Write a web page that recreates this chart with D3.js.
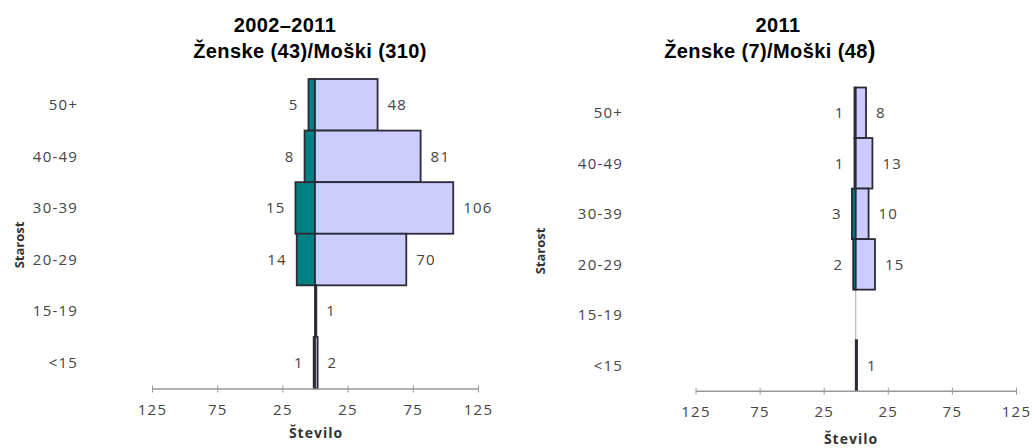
<!DOCTYPE html>
<html>
<head>
<meta charset="utf-8">
<script src="https://cdn.jsdelivr.net/npm/d3@7"></script>
<style>
  body { margin: 0; background: #fff; }
  text { font-family: "Open Sans", sans-serif; }
</style>
</head>
<body>
<div class="board"></div>
<script>
const width = 1032, height = 448

const categories = ["50+", "40-49", "30-39", "20-29", "15-19", "<15"]
const femaleAll = [5, 8, 15, 14, 0, 1]
const maleAll = [48, 81, 106, 70, 1, 2]
const female2011 = [1, 1, 3, 2, 0, 0]
const male2011 = [8, 13, 10, 15, 0, 1]
const tickValues = [-125, -75, -25, 25, 75, 125]

const TEAL = "#008080"
const LAVENDER = "#ccccff"
const BAR_STROKE = "#2b2b38"
const LABEL = "#444"

let svg = d3.select(".board")
    .append("svg")
    .attr("width", width)
    .attr("height", height)

let panels = [
    {
        female: femaleAll, male: maleAll,
        title1: "2002–2011", title1X: 285,
        title2: "Ženske (43)/Moški (310)", title2X: 310,
        xRange: [152, 478], yTop: 79, yBottom: 388.5,
        catX: 78, tickY: 415, axisTitleX: 316, axisTitleY: 438,
        yTitleX: 24, yTitleY: 245
    },
    {
        female: female2011, male: male2011,
        title1: "2011", title1X: 778,
        title2: "Ženske (7)/Moški (48", title2X: 770, bigParen: true,
        xRange: [695.5, 1016], yTop: 87.5, yBottom: 390.7,
        catX: 623, tickY: 417, axisTitleX: 851, axisTitleY: 444,
        yTitleX: 545, yTitleY: 251
    }
]

function drawPanel(p) {
    let g = svg.append("g")

    let x = d3.scaleLinear().domain([-125, 125]).range(p.xRange)
    let y = d3.scaleBand().domain(categories).range([p.yTop, p.yBottom]).padding(0)

    // titles
    g.append("text")
        .attr("x", p.title1X).attr("y", 32)
        .attr("text-anchor", "middle")
        .style("font-family", "'Liberation Sans', Arial, sans-serif")
        .style("font-weight", "bold").style("font-size", "20px")
        .style("letter-spacing", "0.4px")
        .text(p.title1)

    let t2 = g.append("text")
        .attr("x", p.title2X).attr("y", 58)
        .attr("text-anchor", "middle")
        .style("font-family", "'Liberation Sans', Arial, sans-serif")
        .style("font-weight", "bold").style("font-size", "20px")
        .style("letter-spacing", "0.4px")
    t2.append("tspan").text(p.title2)
    if (p.bigParen) t2.append("tspan").style("font-size", "23px").text(")")

    // vertical zero line
    g.append("line")
        .attr("x1", x(0)).attr("x2", x(0))
        .attr("y1", p.yTop).attr("y2", p.yBottom)
        .attr("stroke", "#aaa").attr("stroke-width", 1)

    let rows = categories.map((c, i) => ({ cat: c, f: p.female[i], m: p.male[i] }))

    g.selectAll(".fbar")
        .data(rows.filter(d => d.f > 0))
        .enter().append("rect")
        .attr("x", d => x(-d.f))
        .attr("y", d => y(d.cat))
        .attr("width", d => x(0) - x(-d.f))
        .attr("height", y.bandwidth())
        .attr("fill", TEAL)
        .attr("stroke", BAR_STROKE).attr("stroke-width", 1.8)

    g.selectAll(".mbar")
        .data(rows.filter(d => d.m > 0))
        .enter().append("rect")
        .attr("x", x(0))
        .attr("y", d => y(d.cat))
        .attr("width", d => x(d.m) - x(0))
        .attr("height", y.bandwidth())
        .attr("fill", LAVENDER)
        .attr("stroke", BAR_STROKE).attr("stroke-width", 1.8)

    let labelStyle = sel => sel
        .attr("fill", LABEL)
        .style("font-size", "15px")
        .style("letter-spacing", "1.2px")
        .attr("dy", "0.35em")

    g.selectAll(".flabel")
        .data(rows.filter(d => d.f > 0))
        .enter().append("text")
        .attr("x", d => x(-d.f) - 10)
        .attr("y", d => y(d.cat) + y.bandwidth() / 2)
        .attr("text-anchor", "end")
        .call(labelStyle)
        .text(d => d.f)

    g.selectAll(".mlabel")
        .data(rows.filter(d => d.m > 0))
        .enter().append("text")
        .attr("x", d => x(d.m) + 10)
        .attr("y", d => y(d.cat) + y.bandwidth() / 2)
        .call(labelStyle)
        .text(d => d.m)

    // category labels
    g.selectAll(".cat")
        .data(categories)
        .enter().append("text")
        .attr("x", p.catX)
        .attr("y", d => y(d) + y.bandwidth() / 2)
        .attr("text-anchor", "end")
        .call(labelStyle)
        .text(d => d)

    // x axis
    let axis = g.append("g")
        .attr("transform", `translate(0, ${p.yBottom})`)
        .call(d3.axisBottom(x)
            .tickValues(tickValues)
            .tickFormat(d => Math.abs(d))
            .tickSize(4)
            .tickSizeOuter(0))
    axis.select(".domain").attr("stroke", "#999").attr("stroke-width", 1.5)
    axis.selectAll(".tick line").attr("stroke", "#999").attr("y1", -3).attr("y2", 4)
    axis.selectAll(".tick text")
        .attr("y", p.tickY - p.yBottom).attr("dy", 0)
        .attr("fill", LABEL)
        .style("font-family", "'Open Sans', sans-serif")
        .style("font-size", "15px")
        .style("letter-spacing", "1.2px")

    g.append("text")
        .attr("x", p.axisTitleX).attr("y", p.axisTitleY)
        .attr("text-anchor", "middle")
        .attr("fill", "#333")
        .style("font-weight", "bold").style("font-size", "14px")
        .style("letter-spacing", "1px")
        .text("Število")

    g.append("text")
        .attr("transform", `translate(${p.yTitleX}, ${p.yTitleY}) rotate(-90)`)
        .attr("text-anchor", "middle")
        .attr("fill", "#333")
        .style("font-weight", "bold").style("font-size", "13px")
        .text("Starost")
}

panels.forEach(drawPanel)
</script>
</body>
</html>
